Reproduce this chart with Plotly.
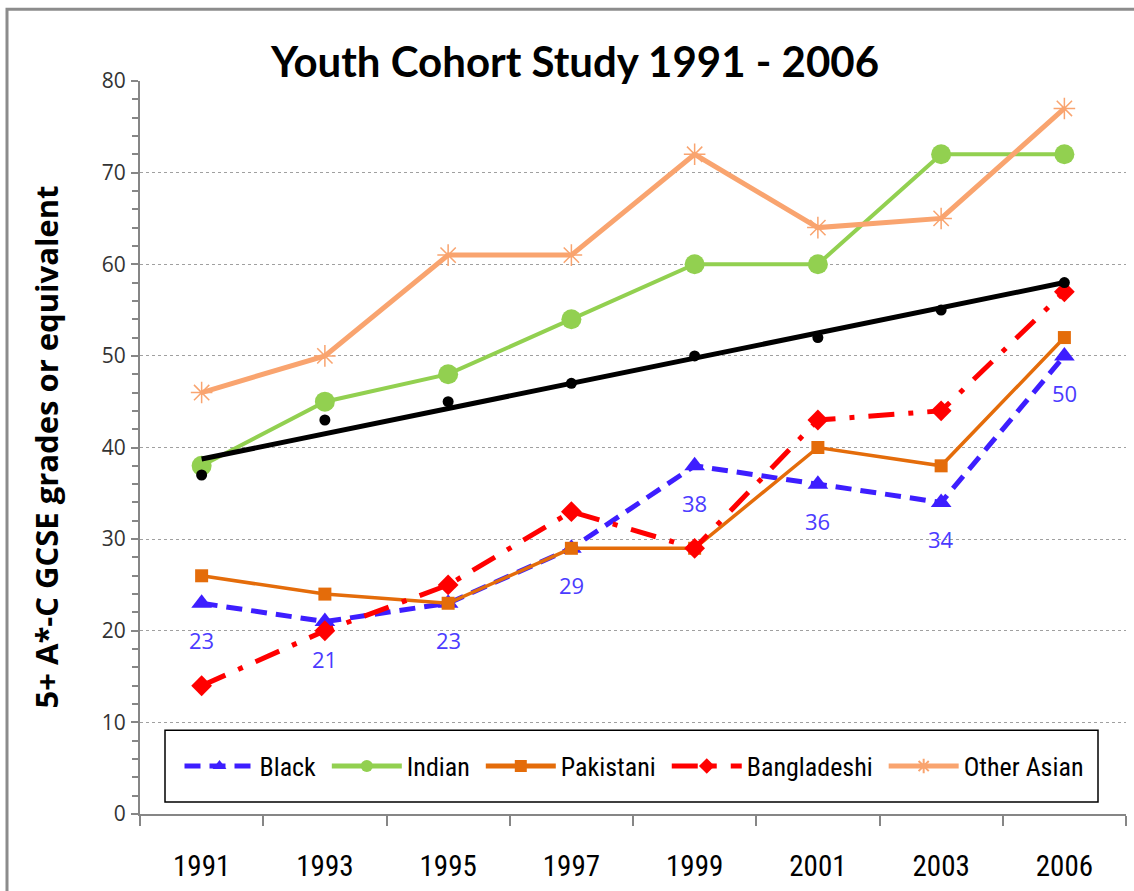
import numpy as np
import plotly.graph_objects as go

years = ["1991", "1993", "1995", "1997", "1999", "2001", "2003", "2006"]
black = [23, 21, 23, 29, 38, 36, 34, 50]
indian = [38, 45, 48, 54, 60, 60, 72, 72]
pakistani = [26, 24, 23, 29, 29, 40, 38, 52]
bangladeshi = [14, 20, 25, 33, 29, 43, 44, 57]
other_asian = [46, 50, 61, 61, 72, 64, 65, 77]
all_pupils = [37, 43, 45, 47, 50, 52, 55, 58]

NARROW = "Liberation Sans Narrow, Arial Narrow, Roboto Condensed, DejaVu Sans Condensed, sans-serif"
SANS = "Open Sans, Noto Sans, sans-serif"
TITLEFONT = "Lato, Open Sans, sans-serif"

BLUE = "#3D1EFF"
GREEN = "#92D050"
ORANGE = "#E46C0A"
RED = "#FF0000"
SALMON = "#F9A46F"
NB = "\u00a0"

fig = go.Figure()

fig.add_trace(go.Scatter(
    x=years, y=black, name="Black" + NB, mode="lines+markers",
    line=dict(color=BLUE, width=5, dash="16px,9px"),
    marker=dict(symbol="triangle-up", size=18, color=BLUE),
))
fig.add_trace(go.Scatter(
    x=years, y=indian, name="Indian" + NB, mode="lines+markers",
    line=dict(color=GREEN, width=4),
    marker=dict(symbol="circle", size=20, color=GREEN),
))
fig.add_trace(go.Scatter(
    x=years, y=pakistani, name="Pakistani" + NB, mode="lines+markers",
    line=dict(color=ORANGE, width=3.5),
    marker=dict(symbol="square", size=13, color=ORANGE),
))
fig.add_trace(go.Scatter(
    x=years, y=bangladeshi, name="Bangladeshi" + NB, mode="lines+markers",
    line=dict(color=RED, width=5, dash="26px,14px,5px,14px"),
    marker=dict(symbol="diamond", size=16, color=RED),
))
fig.add_trace(go.Scatter(
    x=years, y=other_asian, name="Other Asian", mode="lines+markers",
    line=dict(color=SALMON, width=5),
    marker=dict(symbol="asterisk-open", size=18, color=SALMON,
                line=dict(color=SALMON, width=1.5)),
))
fig.add_trace(go.Scatter(
    x=years, y=all_pupils, name="All", mode="markers", showlegend=False,
    marker=dict(symbol="circle", size=11, color="black"),
))
# linear trendline of the "All" series (as Excel's trendline)
idx = np.arange(1, len(years) + 1)
slope, intercept = np.polyfit(idx, all_pupils, 1)
trend = slope * idx + intercept
fig.add_trace(go.Scatter(
    x=years, y=trend, name="Trend", mode="lines", showlegend=False,
    line=dict(color="black", width=5),
))

annotations = []
for i, v in enumerate(black):
    annotations.append(dict(
        x=i, y=v, xref="x", yref="y", text=str(v), showarrow=False,
        yshift=-37, font=dict(family=SANS, size=22, color="#4B3BFF"),
    ))
annotations.append(dict(
    x=(45 - 140) / 986, y=0.5, xref="paper", yref="paper",
    text="<b>5+ A*-C GCSE grades or equivalent</b>", textangle=-90,
    showarrow=False, xanchor="center", yanchor="middle",
    font=dict(family=SANS, size=31, color="black"),
))

shapes = [
    # outer chart border
    dict(type="rect", xref="paper", yref="paper",
         x0=(7 - 140) / 986, x1=1.05, y0=-0.3, y1=(816 - 9) / 735,
         line=dict(color="#8C8C8C", width=3), fillcolor="rgba(0,0,0,0)", layer="below"),
    # legend box
    dict(type="rect", xref="paper", yref="paper",
         x0=(165 - 140) / 986, x1=(1098 - 140) / 986,
         y0=(816 - 804) / 735, y1=(816 - 732) / 735,
         line=dict(color="black", width=1.5), fillcolor="white", layer="above"),
]

fig.update_layout(
    width=1134, height=891,
    margin=dict(l=140, r=8, t=81, b=75),
    paper_bgcolor="white", plot_bgcolor="white",
    title=dict(text="<b>Youth Cohort Study 1991 - 2006</b>",
               xref="container", yref="container",
               x=575 / 1134, y=1 - 62 / 891, xanchor="center", yanchor="middle",
               font=dict(family=TITLEFONT, size=42, color="black")),
    showlegend=True,
    legend=dict(orientation="h", x=(634 - 140) / 986, y=(816 - 768) / 735,
                xanchor="center", yanchor="middle",
                bgcolor="rgba(0,0,0,0)", borderwidth=0, itemsizing="constant",
                itemwidth=70, font=dict(family=NARROW, size=26, color="black"),
                traceorder="normal"),
    annotations=annotations,
    shapes=shapes,
)

fig.update_xaxes(
    type="category", categoryorder="array", categoryarray=years,
    range=[-0.5, len(years) - 0.5], autorange=False,
    tickson="boundaries", ticks="outside", ticklen=10, tickwidth=1.5,
    tickcolor="#868686", showline=True, linecolor="#868686", linewidth=2,
    showgrid=False, zeroline=False, ticklabelstandoff=25, tickangle=0,
    tickfont=dict(family=NARROW, size=29, color="black"),
)
fig.update_yaxes(
    range=[0, 80], autorange=False, dtick=10, tick0=0, ticks="outside", ticklen=7, tickwidth=1.5,
    tickcolor="#868686", showline=True, linecolor="#868686", linewidth=2,
    showgrid=True, gridcolor="#A0A0A0", gridwidth=1, griddash="dot",
    zeroline=False, ticklabelstandoff=1,
    minor=dict(dtick=2, ticks="outside", ticklen=6, tickcolor="#868686", tickwidth=1.5, showgrid=False),
    tickfont=dict(family=SANS, size=21, color="#333333"),
)

fig.write_html("out.html", config={"displayModeBar": False},
               post_script="document.body.style.margin='0';")
